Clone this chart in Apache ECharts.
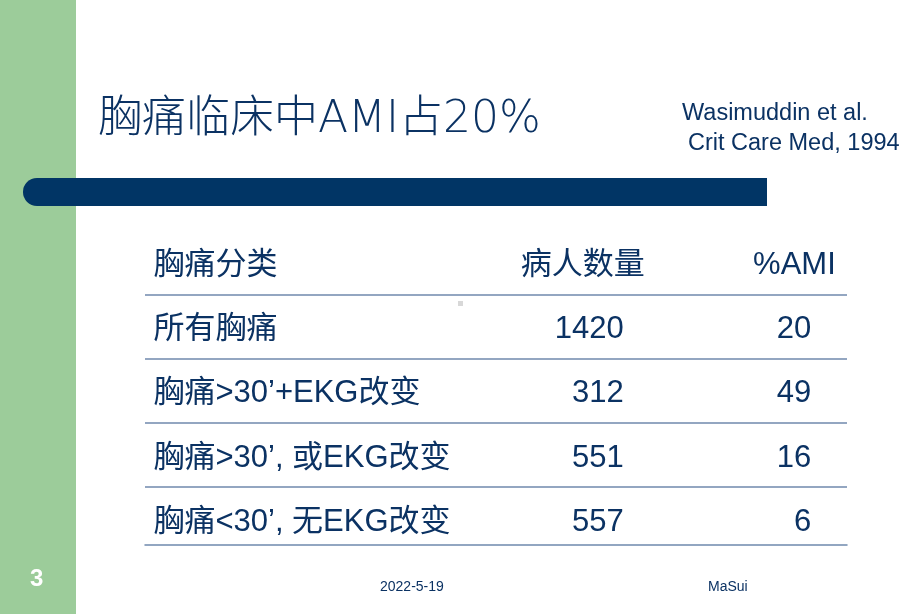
<!DOCTYPE html>
<html>
<head>
<meta charset="utf-8">
<title>胸痛临床中AMI占20%</title>
<script src="https://cdn.jsdelivr.net/npm/echarts@6/dist/echarts.min.js"></script>
<style>
  html, body { margin: 0; padding: 0; background: #fff; }
  #main { width: 920px; height: 614px; }
</style>
</head>
<body>
<div id="main"></div>
<script>
// 表格数据
var headers = ['胸痛分类', '病人数量', '%AMI'];
var categories = ['所有胸痛', '胸痛>30’+EKG改变', '胸痛>30’, 或EKG改变', '胸痛<30’, 无EKG改变'];
var patients = [1420, 312, 551, 557];
var amiPct = [20, 49, 16, 6];

var navy = '#0b3263';
var font = '"Liberation Sans", "Noto Sans CJK SC", sans-serif';

// 列的位置 (表格宽度的百分比)
var colLabel = 1.2, colPatients = 68.2, colAmi = 94.9;
var headPatients = 71.2, headAmi = 98.4;

var myChart = echarts.init(document.getElementById('main'));

function textLabel(side) {
    return {
        show: true,
        position: side,
        distance: 0,
        offset: [0, 3],
        color: navy,
        opacity: 1,
        fontSize: 31,
        fontFamily: font,
        formatter: function (p) { return p.data.text; }
    };
}

// 表头行 (第0行) + 数据行
var leftCells = [{ value: [colLabel, 0.5], text: headers[0] }];
categories.forEach(function (c, i) {
    leftCells.push({ value: [colLabel, i + 1.5], text: c });
});
var rightCells = [
    { value: [headPatients, 0.5], text: headers[1] },
    { value: [headAmi, 0.5], text: headers[2] }
];
patients.forEach(function (v, i) {
    rightCells.push({ value: [colPatients, i + 1.5], text: String(v) });
});
amiPct.forEach(function (v, i) {
    rightCells.push({ value: [colAmi, i + 1.5], text: String(v) });
});

var option = {
    backgroundColor: '#fff',
    animation: false,
    grid: { left: 145, right: 73, top: 230, bottom: 69 },
    xAxis: {
        type: 'value', min: 0, max: 100, position: 'bottom',
        axisLabel: { show: false }, axisTick: { show: false },
        splitLine: { show: false },
        axisLine: { show: true, onZero: false, lineStyle: { color: '#6f89ad', width: 1.5 } }
    },
    yAxis: {
        type: 'value', min: 0, max: 4.9, interval: 1, inverse: true,
        axisLabel: { show: false }, axisTick: { show: false }, axisLine: { show: false },
        splitLine: {
            show: true, showMinLine: false, showMaxLine: false,
            lineStyle: { color: '#6f89ad', width: 1.5 }
        }
    },
    graphic: [
        // 左侧绿色条
        { type: 'rect', shape: { x: 0, y: 0, width: 76, height: 614 }, style: { fill: '#9ccc9a' }, z: 0 },
        // 深蓝色横条
        { type: 'rect', shape: { x: 23, y: 178, width: 744, height: 28, r: [14, 0, 0, 14] }, style: { fill: '#013565' }, z: 1 },
        // 标题
        { type: 'text', left: 98, top: 99, style: { text: '胸痛临床中AMI占20%', fill: navy, font: '300 44px "DejaVu Sans", "Noto Sans CJK SC", sans-serif' } },
        { type: 'text', left: 682, top: 102, style: { text: 'Wasimuddin et al.', fill: navy, font: '23.5px "Liberation Sans", sans-serif' } },
        { type: 'text', left: 688, top: 132, style: { text: 'Crit Care Med, 1994', fill: navy, font: '23.5px "Liberation Sans", sans-serif' } },
        // 小方块
        { type: 'rect', shape: { x: 458, y: 301, width: 5, height: 5 }, style: { fill: '#d8d8d8' } },
        // 页脚
        { type: 'text', left: 30, top: 567, style: { text: '3', fill: '#fff', font: 'bold 24px "Liberation Sans", sans-serif' } },
        { type: 'text', left: 380, top: 580, style: { text: '2022-5-19', fill: navy, font: '14px "Liberation Sans", sans-serif' } },
        { type: 'text', left: 708, top: 580, style: { text: 'MaSui', fill: navy, font: '14px "Liberation Sans", sans-serif' } }
    ],
    series: [
        {
            type: 'scatter', symbolSize: 0, silent: true,
            itemStyle: { opacity: 1 },
            data: leftCells,
            label: textLabel('right')
        },
        {
            type: 'scatter', symbolSize: 0, silent: true,
            itemStyle: { opacity: 1 },
            data: rightCells,
            label: textLabel('left')
        }
    ]
};

myChart.setOption(option);
</script>
</body>
</html>
